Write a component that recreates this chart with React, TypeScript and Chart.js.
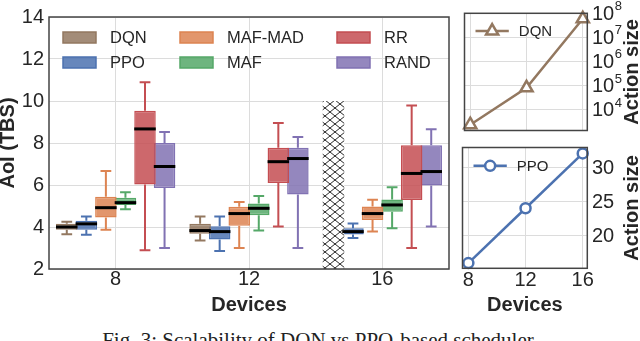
import React, { useEffect, useRef } from 'react';
import { Chart, registerables } from 'chart.js';

Chart.register(...registerables);

// ---------- data ----------
const devices = ['8', '12', '16'];
const methods = ['DQN', 'PPO', 'MAF-MAD', 'MAF', 'RR', 'RAND'];
const colors = ['#937860', '#4C72B0', '#DD8452', '#55A868', '#C44E52', '#8172B3'];

// box stats per device: [min, q1, median, q3, max]
const dqnBox = [[3.65, 3.87, 4.0, 4.15, 4.25], [3.36, 3.68, 3.83, 4.15, 4.5], null];
const ppoBox = [[3.63, 3.87, 4.15, 4.3, 4.5], [2.86, 3.4, 3.78, 4.03, 4.5], [3.48, 3.64, 3.78, 3.94, 4.17]];
const mafMadBox = [[3.87, 4.45, 4.92, 5.44, 6.67], [3.0, 4.06, 4.64, 4.97, 5.19], [3.78, 4.33, 4.64, 4.98, 5.3]];
const mafBox = [[4.84, 5.05, 5.16, 5.39, 5.66], [3.83, 4.56, 4.89, 5.12, 5.48], [3.94, 4.73, 5.05, 5.31, 5.89]];
const rrBox = [[2.89, 6.02, 8.67, 9.53, 10.89], [4.02, 6.09, 7.11, 7.77, 8.95], [3.0, 5.28, 6.55, 7.89, 9.78]];
const randBox = [[3.0, 5.86, 6.88, 8.0, 8.52], [3.0, 5.55, 7.26, 7.77, 8.28], [4.02, 5.98, 6.64, 7.89, 8.66]];
const dqnMissingRange = [2, 10]; // hatched slot: DQN not run at 16 devices

const aoiTicks = [2, 4, 6, 8, 10, 12, 14];

const actionDevices = [8, 12, 16];
const dqnActionSize = [2350, 80000, 59000000];
const ppoActionSize = [16, 24, 32];
const logTicks = [1e4, 1e5, 1e6, 1e7, 1e8];
const ppoTicks = [20, 25, 30];

const boxStats = [dqnBox, ppoBox, mafMadBox, mafBox, rrBox, randBox];

const FONT = '"Liberation Sans", Arial, sans-serif';
const TEXT = '#262626';
const GRID = '#dcdcdc';
const EDGE = '#444444';

function rgba(hex: string, a: number) {
  const n = parseInt(hex.slice(1), 16);
  return `rgba(${(n >> 16) & 255},${(n >> 8) & 255},${n & 255},${a})`;
}

export default function App() {
  const mainRef = useRef<HTMLCanvasElement>(null);
  const topRef = useRef<HTMLCanvasElement>(null);
  const botRef = useRef<HTMLCanvasElement>(null);

  useEffect(() => {
    Chart.defaults.font.family = FONT;
    Chart.defaults.color = TEXT;
    const charts: Chart[] = [];

    // hatch pattern
    const pw = 10, ph = 8;
    const pc = document.createElement('canvas');
    pc.width = pw; pc.height = ph;
    const p = pc.getContext('2d')!;
    p.fillStyle = '#fff'; p.fillRect(0, 0, pw, ph);
    p.strokeStyle = '#111'; p.lineWidth = 0.9;
    p.beginPath(); p.moveTo(0, 0); p.lineTo(pw, ph); p.moveTo(pw, 0); p.lineTo(0, ph); p.stroke();
    const mctx = mainRef.current!.getContext('2d')!;
    const hatch = mctx.createPattern(pc, 'repeat')!;

    const frame = {
      id: 'frame',
      afterDraw(chart: any) {
        const { ctx, chartArea: a } = chart;
        ctx.save();
        ctx.strokeStyle = EDGE; ctx.lineWidth = 1.5;
        ctx.strokeRect(a.left, a.top, a.right - a.left, a.bottom - a.top);
        ctx.restore();
      },
    };

    const boxPlugin = {
      id: 'boxes',
      afterDatasetsDraw(chart: any) {
        const { ctx } = chart;
        const y = chart.scales.y;
        ctx.save();
        ctx.lineCap = 'butt';
        boxStats.forEach((stats, i) => {
          const meta = chart.getDatasetMeta(i);
          meta.data.forEach((bar: any, j: number) => {
            const s = stats[j];
            if (!s) return;
            const { x, width } = bar.getProps(['x', 'width'], true);
            const yMin = y.getPixelForValue(s[0]);
            const yQ1 = y.getPixelForValue(s[1]);
            const yQ3 = y.getPixelForValue(s[3]);
            const yMax = y.getPixelForValue(s[4]);
            ctx.strokeStyle = colors[i];
            ctx.lineWidth = 2;
            ctx.beginPath();
            ctx.moveTo(x, yQ1); ctx.lineTo(x, yMin);
            ctx.moveTo(x, yQ3); ctx.lineTo(x, yMax);
            ctx.moveTo(x - width / 4, yMin); ctx.lineTo(x + width / 4, yMin);
            ctx.moveTo(x - width / 4, yMax); ctx.lineTo(x + width / 4, yMax);
            ctx.stroke();
          });
        });
        boxStats.forEach((stats, i) => {
          const meta = chart.getDatasetMeta(i);
          meta.data.forEach((bar: any, j: number) => {
            const s = stats[j];
            if (!s) return;
            const { x, width } = bar.getProps(['x', 'width'], true);
            const yMed = y.getPixelForValue(s[2]);
            ctx.strokeStyle = '#000';
            ctx.lineWidth = 3;
            ctx.beginPath();
            ctx.moveTo(x - width / 2, yMed); ctx.lineTo(x + width / 2, yMed);
            ctx.stroke();
          });
        });
        ctx.restore();
      },
      afterDraw(chart: any) {
        const { ctx, chartArea: a } = chart;
        ctx.save();
        ctx.font = `16.5px ${FONT}`;
        ctx.textBaseline = 'middle';
        ctx.textAlign = 'left';
        const colX = [14, 131, 288];
        const rowY = [15, 40];
        const order = [0, 2, 4, 1, 3, 5];
        methods.forEach((m, i) => {
          const col = Math.floor(i / 2);
          const row = i % 2;
          const idx = order[row * 3 + col];
          const sx = a.left + colX[col];
          const sy = a.top + rowY[row];
          ctx.fillStyle = rgba(colors[idx], 0.85);
          ctx.fillRect(sx, sy, 33, 11);
          ctx.strokeStyle = colors[idx];
          ctx.lineWidth = 1.5;
          ctx.strokeRect(sx, sy, 33, 11);
          ctx.fillStyle = TEXT;
          ctx.fillText(methods[idx], sx + 47, sy + 6);
        });
        ctx.restore();
      },
    };

    const datasets = methods.map((m, i) => ({
      label: m,
      data: boxStats[i].map((s: any) => (s ? [s[1], s[3]] : i === 0 ? dqnMissingRange : null)),
      backgroundColor: boxStats[i].map((s: any) => (s ? rgba(colors[i], 0.85) : hatch)),
      borderColor: colors[i],
      borderWidth: boxStats[i].map((s: any) => (s ? 1.5 : 0)),
      borderSkipped: false,
      categoryPercentage: 0.88,
      barPercentage: 1.1,
    }));

    charts.push(
      new Chart(mainRef.current!, {
        type: 'bar',
        data: { labels: devices, datasets: datasets as any },
        options: {
          responsive: false,
          animation: false,
          layout: { padding: { left: 0, top: 13, right: 3, bottom: 0 } },
          plugins: { legend: { display: false }, tooltip: { enabled: false } },
          scales: {
            x: {
              offset: true,
              grid: { offset: false, color: GRID, drawTicks: false },
              border: { display: false },
              ticks: { font: { size: 20, lineHeight: 1 }, padding: 0, color: TEXT },
              title: {
                display: true, text: 'Devices', color: TEXT,
                font: { size: 20, weight: 'bold', lineHeight: 1.2 },
                padding: { top: 0, bottom: 3 },
              },
              afterFit: (s: any) => { s.height = 51; },
            },
            y: {
              min: aoiTicks[0],
              max: aoiTicks[aoiTicks.length - 1],
              afterBuildTicks: (s: any) => { s.ticks = aoiTicks.map((v) => ({ value: v })); },
              grid: { color: GRID, drawTicks: false },
              border: { display: false },
              ticks: { font: { size: 20 }, padding: 5, color: TEXT },
              title: {
                display: true, text: 'AoI (TBS)', color: TEXT,
                font: { size: 20, weight: 'bold', lineHeight: 0.85 },
                padding: 0,
              },
              afterFit: (s: any) => { s.width = 49; },
            },
          },
        } as any,
        plugins: [boxPlugin, frame],
      })
    );

    const sideLabels = (kind: 'log' | 'lin', label: string, marker: 'triangle' | 'circle', color: string, legendY: number) => ({
      id: 'side-' + kind,
      afterDraw(chart: any) {
        const { ctx, chartArea: a } = chart;
        const y = chart.scales.y;
        ctx.save();
        ctx.fillStyle = TEXT;
        ctx.textAlign = 'left';
        const lx = a.right + 4.7;
        const ticks = kind === 'log' ? logTicks : ppoTicks;
        ticks.forEach((v) => {
          const py = y.getPixelForValue(v);
          ctx.font = `20px ${FONT}`;
          ctx.textBaseline = 'middle';
          if (kind === 'log') {
            ctx.fillText('10', lx, py + 1);
            const w = ctx.measureText('10').width;
            ctx.font = `13px ${FONT}`;
            ctx.textBaseline = 'alphabetic';
            ctx.fillText(String(Math.round(Math.log10(v))), lx + w + 0.5, py - 3);
          } else {
            ctx.fillText(String(v), lx, py + 1);
          }
        });
        // axis title
        ctx.save();
        ctx.translate(a.right + 44.7, (a.top + a.bottom) / 2);
        ctx.rotate(-Math.PI / 2);
        ctx.textAlign = 'center';
        ctx.textBaseline = 'middle';
        ctx.font = `bold 20px ${FONT}`;
        ctx.fillText('Action size', 0, 0);
        ctx.restore();
        // legend
        const x1 = a.left + 11, x2 = a.left + 44.3, cx = (x1 + x2) / 2;
        const ly = a.top + legendY;
        ctx.strokeStyle = color;
        ctx.lineWidth = 2.5;
        ctx.beginPath(); ctx.moveTo(x1, ly); ctx.lineTo(x2, ly); ctx.stroke();
        ctx.fillStyle = '#fff';
        ctx.beginPath();
        if (marker === 'triangle') {
          const r = 7;
          ctx.moveTo(cx, ly - r);
          ctx.lineTo(cx + r * Math.sin(Math.PI / 3), ly + r / 2);
          ctx.lineTo(cx - r * Math.sin(Math.PI / 3), ly + r / 2);
          ctx.closePath();
        } else {
          ctx.arc(cx, ly, 5, 0, Math.PI * 2);
        }
        ctx.fill(); ctx.stroke();
        ctx.fillStyle = TEXT;
        ctx.font = `15px ${FONT}`;
        ctx.textBaseline = 'middle';
        ctx.fillText(label, a.left + 54.3, ly + 1);
        ctx.restore();
      },
    });

    const xSide = (showTicks: boolean, h: number) => ({
      type: 'linear',
      min: 7.59,
      max: 16.32,
      afterBuildTicks: (s: any) => { s.ticks = actionDevices.map((v) => ({ value: v })); },
      grid: { color: GRID, drawTicks: false },
      border: { display: false },
      ticks: { display: showTicks, font: { size: 20, lineHeight: 1 }, padding: 1.7, color: TEXT, callback: (v: any) => String(v) },
      title: showTicks
        ? { display: true, text: 'Devices', color: TEXT, font: { size: 20, weight: 'bold', lineHeight: 1.2 }, padding: { top: 0, bottom: 3 } }
        : { display: false },
      afterFit: (s: any) => { s.height = h; },
    });

    charts.push(
      new Chart(topRef.current!, {
        type: 'line',
        data: {
          datasets: [{
            label: 'DQN',
            data: actionDevices.map((d, i) => ({ x: d, y: dqnActionSize[i] })),
            borderColor: colors[0],
            borderWidth: 2.5,
            pointStyle: 'triangle',
            pointRadius: 7,
            pointBorderWidth: 2.5,
            pointBackgroundColor: '#fff',
            pointBorderColor: colors[0],
            clip: false,
          }],
        },
        options: {
          responsive: false,
          animation: false,
          layout: { padding: { left: 5.7, top: 13.3, right: 0, bottom: 5 } },
          plugins: { legend: { display: false }, tooltip: { enabled: false } },
          scales: {
            x: xSide(false, 0),
            y: {
              type: 'logarithmic',
              position: 'right',
              min: 1355,
              max: 1e8,
              afterBuildTicks: (s: any) => { s.ticks = logTicks.map((v) => ({ value: v })); },
              grid: { color: GRID, drawTicks: false },
              border: { display: false },
              ticks: { display: false },
              afterFit: (s: any) => { s.width = 52.7; },
            },
          },
        } as any,
        plugins: [frame, sideLabels('log', 'DQN', 'triangle', colors[0], 17.7)],
      })
    );

    charts.push(
      new Chart(botRef.current!, {
        type: 'line',
        data: {
          datasets: [{
            label: 'PPO',
            data: actionDevices.map((d, i) => ({ x: d, y: ppoActionSize[i] })),
            borderColor: colors[1],
            borderWidth: 2.5,
            pointStyle: 'circle',
            pointRadius: 5,
            pointBorderWidth: 2.5,
            pointBackgroundColor: '#fff',
            pointBorderColor: colors[1],
            clip: false,
          }],
        },
        options: {
          responsive: false,
          animation: false,
          layout: { padding: { left: 5.7, top: 5, right: 0, bottom: 0 } },
          plugins: { legend: { display: false }, tooltip: { enabled: false } },
          scales: {
            x: xSide(true, 51.7),
            y: {
              type: 'linear',
              position: 'right',
              min: 15.243,
              max: 32.857,
              afterBuildTicks: (s: any) => { s.ticks = ppoTicks.map((v) => ({ value: v })); },
              grid: { color: GRID, drawTicks: false },
              border: { display: false },
              ticks: { display: false },
              afterFit: (s: any) => { s.width = 52.7; },
            },
          },
        } as any,
        plugins: [frame, sideLabels('lin', 'PPO', 'circle', colors[1], 18.3)],
      })
    );

    return () => charts.forEach((c) => c.destroy());
  }, []);

  return (
    <div style={{ position: 'fixed', left: 0, top: 0, width: 640, height: 341, background: '#fff', overflow: 'hidden' }}>
      <canvas ref={mainRef} width={452} height={320} style={{ position: 'absolute', left: 0, top: 0 }} />
      <canvas ref={topRef} width={185} height={140} style={{ position: 'absolute', left: 455, top: 0 }} />
      <canvas ref={botRef} width={185} height={180} style={{ position: 'absolute', left: 455, top: 140 }} />
      <div
        style={{
          position: 'absolute', left: 0, top: 330, width: 640, textAlign: 'center',
          fontFamily: '"Liberation Serif", "Times New Roman", serif', fontSize: 21, lineHeight: '20px',
          color: '#222', whiteSpace: 'nowrap',
        }}
      >
        Fig. 3: Scalability of DQN vs PPO-based scheduler.
      </div>
    </div>
  );
}
